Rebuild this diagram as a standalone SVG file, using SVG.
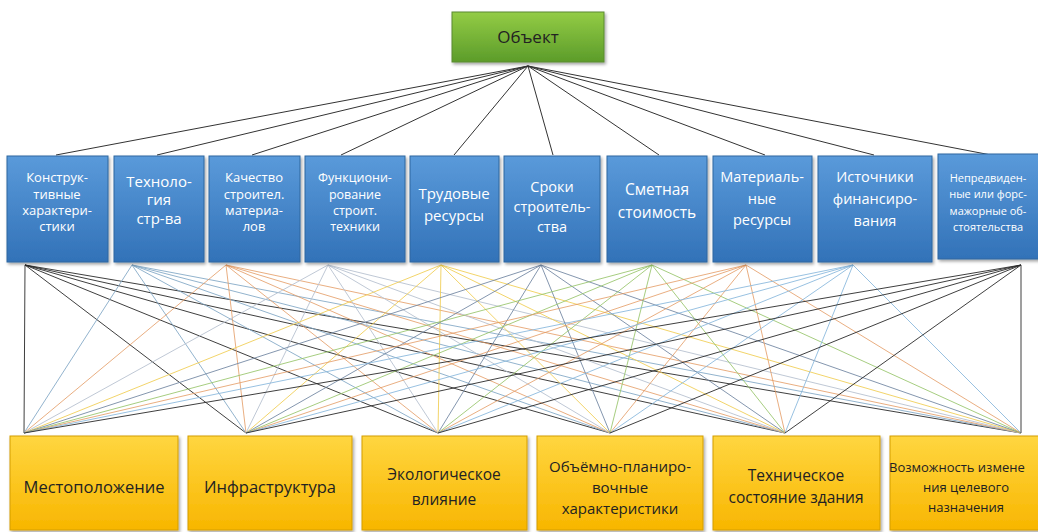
<svg xmlns="http://www.w3.org/2000/svg" width="1038" height="532" viewBox="0 0 1038 532">
<defs>
<linearGradient id="gGreen" x1="0" y1="0" x2="0" y2="1"><stop offset="0" stop-color="#93cc45"/><stop offset="1" stop-color="#5c9c2a"/></linearGradient>
<linearGradient id="gBlue" x1="0" y1="0" x2="0" y2="1"><stop offset="0" stop-color="#5a9ada"/><stop offset="1" stop-color="#3272b8"/></linearGradient>
<linearGradient id="gYel" x1="0" y1="0" x2="0" y2="1"><stop offset="0" stop-color="#ffd640"/><stop offset="1" stop-color="#f8b600"/></linearGradient>
<filter id="sh" x="-10%" y="-10%" width="130%" height="130%"><feDropShadow dx="1.5" dy="2" stdDeviation="1.5" flood-color="#000" flood-opacity="0.35"/></filter>
<style>
.t{font-family:"Open Sans","Noto Sans",sans-serif;text-anchor:middle}
.w{fill:#ffffff}
.d{fill:#222222}
.bx{fill:url(#gBlue);stroke:#2f679f;stroke-width:1;filter:url(#sh)}
.yx{fill:url(#gYel);stroke:#d49e00;stroke-width:1;filter:url(#sh)}
.gx{fill:url(#gGreen);stroke:#5a8a30;stroke-width:1;filter:url(#sh)}
#conn line{stroke-width:1;fill:none}
.k0{stroke:#333333}
.k1{stroke:#2a2a2a;stroke-opacity:0.9}
.k2{stroke:#7fa6c4;stroke-opacity:0.85}
.k3{stroke:#e49a62;stroke-opacity:0.8}
.k4{stroke:#b8c2d0;stroke-opacity:0.9}
.k5{stroke:#f0cc50;stroke-opacity:0.85}
.k6{stroke:#6f84a0;stroke-opacity:0.85}
.k7{stroke:#96c46a;stroke-opacity:0.85}
.k8{stroke:#e49a62;stroke-opacity:0.8}
.k9{stroke:#86b6dc;stroke-opacity:0.85}
.k10{stroke:#2a2a2a;stroke-opacity:0.9}
</style>
</defs>
<rect width="1038" height="532" fill="#ffffff"/>
<g id="conn">
<g class="k0">
<line x1="528" y1="66" x2="56" y2="155"/><line x1="528" y1="66" x2="157" y2="155"/><line x1="528" y1="66" x2="252" y2="155"/><line x1="528" y1="66" x2="341" y2="155"/><line x1="528" y1="66" x2="454" y2="155"/><line x1="528" y1="66" x2="553" y2="155"/><line x1="528" y1="66" x2="659" y2="155"/><line x1="528" y1="66" x2="765" y2="155"/><line x1="528" y1="66" x2="874" y2="155"/><line x1="528" y1="66" x2="991" y2="155"/>
</g>
<g class="k1"><line x1="25" y1="265" x2="24" y2="433"/><line x1="25" y1="265" x2="246" y2="433"/><line x1="25" y1="265" x2="438" y2="433"/><line x1="25" y1="265" x2="610" y2="433"/><line x1="25" y1="265" x2="785" y2="433"/><line x1="25" y1="265" x2="1021" y2="433"/></g>
<g class="k2"><line x1="132" y1="265" x2="24" y2="433"/><line x1="132" y1="265" x2="246" y2="433"/><line x1="132" y1="265" x2="438" y2="433"/><line x1="132" y1="265" x2="610" y2="433"/><line x1="132" y1="265" x2="785" y2="433"/><line x1="132" y1="265" x2="1021" y2="433"/></g>
<g class="k3"><line x1="226" y1="265" x2="24" y2="433"/><line x1="226" y1="265" x2="246" y2="433"/><line x1="226" y1="265" x2="438" y2="433"/><line x1="226" y1="265" x2="610" y2="433"/><line x1="226" y1="265" x2="785" y2="433"/><line x1="226" y1="265" x2="1021" y2="433"/></g>
<g class="k4"><line x1="328" y1="265" x2="24" y2="433"/><line x1="328" y1="265" x2="246" y2="433"/><line x1="328" y1="265" x2="438" y2="433"/><line x1="328" y1="265" x2="610" y2="433"/><line x1="328" y1="265" x2="785" y2="433"/><line x1="328" y1="265" x2="1021" y2="433"/></g>
<g class="k5"><line x1="441" y1="265" x2="24" y2="433"/><line x1="441" y1="265" x2="246" y2="433"/><line x1="441" y1="265" x2="438" y2="433"/><line x1="441" y1="265" x2="610" y2="433"/><line x1="441" y1="265" x2="785" y2="433"/><line x1="441" y1="265" x2="1021" y2="433"/></g>
<g class="k6"><line x1="541" y1="265" x2="24" y2="433"/><line x1="541" y1="265" x2="246" y2="433"/><line x1="541" y1="265" x2="438" y2="433"/><line x1="541" y1="265" x2="610" y2="433"/><line x1="541" y1="265" x2="785" y2="433"/><line x1="541" y1="265" x2="1021" y2="433"/></g>
<g class="k7"><line x1="652" y1="265" x2="24" y2="433"/><line x1="652" y1="265" x2="246" y2="433"/><line x1="652" y1="265" x2="438" y2="433"/><line x1="652" y1="265" x2="610" y2="433"/><line x1="652" y1="265" x2="785" y2="433"/><line x1="652" y1="265" x2="1021" y2="433"/></g>
<g class="k8"><line x1="746" y1="265" x2="24" y2="433"/><line x1="746" y1="265" x2="246" y2="433"/><line x1="746" y1="265" x2="438" y2="433"/><line x1="746" y1="265" x2="610" y2="433"/><line x1="746" y1="265" x2="785" y2="433"/><line x1="746" y1="265" x2="1021" y2="433"/></g>
<g class="k9"><line x1="853" y1="265" x2="24" y2="433"/><line x1="853" y1="265" x2="246" y2="433"/><line x1="853" y1="265" x2="438" y2="433"/><line x1="853" y1="265" x2="610" y2="433"/><line x1="853" y1="265" x2="785" y2="433"/><line x1="853" y1="265" x2="1021" y2="433"/></g>
<g class="k10"><line x1="1021" y1="265" x2="24" y2="433"/><line x1="1021" y1="265" x2="246" y2="433"/><line x1="1021" y1="265" x2="438" y2="433"/><line x1="1021" y1="265" x2="610" y2="433"/><line x1="1021" y1="265" x2="785" y2="433"/><line x1="1021" y1="265" x2="1021" y2="433"/></g>
</g>
<g id="n-object"><rect class="gx" x="452" y="12" width="152" height="50"/><text class="t d" x="528" y="43" font-size="17">Объект</text></g>
<g id="n-m1"><rect class="bx" x="7" y="156" width="101" height="106"/><text class="t w" font-size="13"><tspan x="57" y="182">Конструк-</tspan><tspan x="57" y="199">тивные</tspan><tspan x="57" y="215">характери-</tspan><tspan x="57" y="231">стики</tspan></text></g>
<g id="n-m2"><rect class="bx" x="114" y="156" width="90" height="106"/><text class="t w" font-size="15"><tspan x="159" y="187">Техноло-</tspan><tspan x="159" y="205">гия</tspan><tspan x="159" y="224">стр-ва</tspan></text></g>
<g id="n-m3"><rect class="bx" x="209" y="156" width="91" height="106"/><text class="t w" font-size="13"><tspan x="254" y="182">Качество</tspan><tspan x="254" y="199">строител.</tspan><tspan x="254" y="215">материа-</tspan><tspan x="254" y="231">лов</tspan></text></g>
<g id="n-m4"><rect class="bx" x="305" y="156" width="100" height="106"/><text class="t w" font-size="12.5"><tspan x="355" y="182">Функциони-</tspan><tspan x="355" y="199">рование</tspan><tspan x="355" y="215">строит.</tspan><tspan x="355" y="231">техники</tspan></text></g>
<g id="n-m5"><rect class="bx" x="410" y="156" width="89" height="106"/><text class="t w" font-size="15"><tspan x="454" y="199">Трудовые</tspan><tspan x="454" y="221">ресурсы</tspan></text></g>
<g id="n-m6"><rect class="bx" x="504" y="156" width="96" height="106"/><text class="t w" font-size="14.5"><tspan x="552" y="192">Сроки</tspan><tspan x="552" y="212">строитель-</tspan><tspan x="552" y="232">ства</tspan></text></g>
<g id="n-m7"><rect class="bx" x="607" y="156" width="100" height="106"/><text class="t w" font-size="15.5"><tspan x="657" y="195">Сметная</tspan><tspan x="657" y="218">стоимость</tspan></text></g>
<g id="n-m8"><rect class="bx" x="713" y="156" width="99" height="106"/><text class="t w" font-size="14.5"><tspan x="762" y="182">Материаль-</tspan><tspan x="762" y="204">ные</tspan><tspan x="762" y="225">ресурсы</tspan></text></g>
<g id="n-m9"><rect class="bx" x="818" y="156" width="114" height="106"/><text class="t w" font-size="14.5"><tspan x="875" y="182">Источники</tspan><tspan x="875" y="204">финансиро-</tspan><tspan x="875" y="226">вания</tspan></text></g>
<g id="n-m10"><rect class="bx" x="938" y="154" width="106" height="105"/><text class="t w" font-size="11"><tspan x="988" y="182">Непредвиден-</tspan><tspan x="988" y="198">ные или форс-</tspan><tspan x="988" y="215">мажорные об-</tspan><tspan x="988" y="231">стоятельства</tspan></text></g>
<g id="n-b1"><rect class="yx" x="10" y="436" width="168" height="94"/><text class="t d" x="94" y="493" font-size="16.5">Местоположение</text></g>
<g id="n-b2"><rect class="yx" x="188" y="436" width="164" height="94"/><text class="t d" x="270" y="493" font-size="16.5">Инфраструктура</text></g>
<g id="n-b3"><rect class="yx" x="362" y="436" width="165" height="94"/><text class="t d" font-size="15.5"><tspan x="444" y="480">Экологическое</tspan><tspan x="444" y="505">влияние</tspan></text></g>
<g id="n-b4"><rect class="yx" x="537" y="436" width="166" height="94"/><text class="t d" font-size="15"><tspan x="620" y="472">Объёмно-планиро-</tspan><tspan x="620" y="493">вочные</tspan><tspan x="620" y="514">характеристики</tspan></text></g>
<g id="n-b5"><rect class="yx" x="713" y="436" width="167" height="94"/><text class="t d" font-size="15.5"><tspan x="796" y="481">Техническое</tspan><tspan x="796" y="503">состояние здания</tspan></text></g>
<g id="n-b6"><rect class="yx" x="890" y="436" width="166" height="94"/><text class="t d" font-size="13"><tspan x="889" y="472" text-anchor="start">Возможность измене</tspan><tspan x="966" y="492">ния целевого</tspan><tspan x="966" y="512">назначения</tspan></text></g>
</svg>
